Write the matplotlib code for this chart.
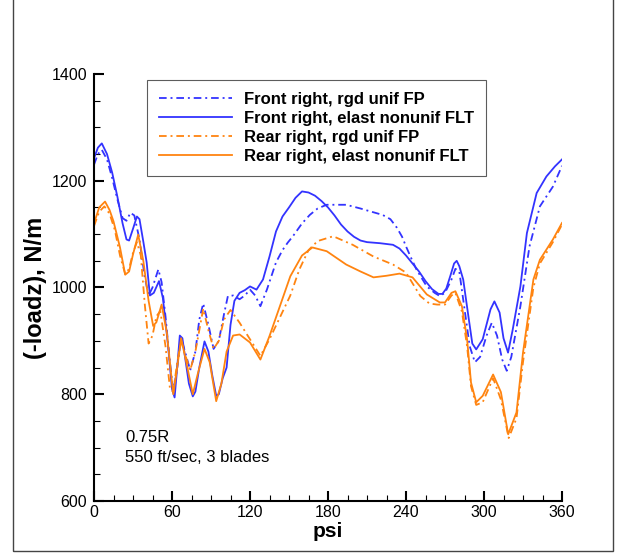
import matplotlib
matplotlib.use("Agg")
import matplotlib.pyplot as plt
from matplotlib.patches import Rectangle
from matplotlib.ticker import MultipleLocator

plt.rcParams['font.family'] = ['Liberation Sans', 'DejaVu Sans']
plt.rcParams['lines.scale_dashes'] = False

# Front right, elast nonunif FLT (blue solid)
fr_el_psi = [0, 3, 6, 10, 14, 18, 22, 25, 27, 30, 33, 35, 38, 40.5, 43, 46, 50, 53, 57, 60, 62, 64, 66, 68, 70,
             73, 76, 78, 81, 85, 88, 91, 94, 96, 99, 102, 105, 108, 112, 116, 120, 125, 130, 135, 140, 145,
             150, 155, 160, 165, 170, 175, 180, 185, 190, 195, 200, 205, 210, 220, 230, 235, 240, 245, 250,
             255, 260, 265, 268, 271, 274, 277, 279, 281, 284, 288, 291, 294, 299, 305, 308, 312, 315, 318.5,
             322, 328, 333, 340.5, 348, 354.6, 360]
fr_el_val = [1242, 1262, 1270, 1250, 1215, 1170, 1120, 1090, 1088, 1110, 1133, 1128, 1085, 1047, 985, 990, 1012,
             980, 890, 810, 794, 850, 910, 905, 870, 820, 796, 805, 850, 899, 880, 835, 797, 800, 830, 850, 930,
             975, 990, 995, 1002, 996, 1015, 1058, 1105, 1133, 1150, 1168, 1180, 1178, 1172, 1162, 1150, 1135,
             1118, 1105, 1095, 1088, 1085, 1083, 1080, 1073, 1060, 1045, 1030, 1012, 997, 988, 988, 998, 1021,
             1045, 1050, 1040, 1015, 946, 895, 884, 903, 959, 974, 953, 905, 878, 920, 1002, 1102, 1177, 1208,
             1227, 1240]

# Front right, rgd unif FP (blue dash-dot)
fr_rg_psi = [0, 3, 6, 10, 14, 18, 22, 25, 28, 31, 35, 39, 42, 45, 49.5, 52, 55, 58, 61, 64, 67, 70, 74, 78,
             81, 84, 88, 92, 96, 100, 103, 107, 112, 116, 120, 124, 128, 133, 140, 145, 149, 153, 160, 166,
             172, 179, 194, 205, 212, 222, 228, 233, 237, 240, 244, 248, 256, 262, 266, 270, 275, 278, 281,
             285, 289, 293, 297, 302, 306, 310, 314, 317.5, 321, 328, 335, 343, 353, 360]
fr_rg_val = [1230, 1250, 1258, 1240, 1205, 1165, 1130, 1125, 1140, 1135, 1090, 1020, 985, 1000, 1034, 1010,
             946, 870, 804, 850, 905, 880, 845, 880, 940, 970, 930, 885, 900, 950, 984, 985, 978, 985, 996,
             985, 965, 996, 1047, 1070, 1084, 1096, 1120, 1136, 1148, 1155, 1155, 1148, 1143, 1136, 1128,
             1112, 1095, 1077, 1055, 1034, 1002, 990, 984, 990, 1015, 1035, 1030, 960, 890, 860, 870, 910,
             934, 910, 865, 844, 870, 965, 1077, 1152, 1189, 1228]

# Rear right, elast nonunif FLT (orange solid)
rr_el_psi = [0, 4, 8.5, 12, 15, 20, 24, 27, 30, 34, 38, 42, 45.5, 48, 52, 56, 60, 61, 64, 67, 71, 76, 80,
             85, 89, 94, 98, 102, 107, 112, 120, 128, 135, 143, 151, 160, 168, 179, 194, 205, 215, 225, 235,
             245, 256, 266, 270, 275, 278, 283, 287, 290, 294, 299, 307, 313, 318.6, 325, 330, 338, 343, 353, 360]
rr_el_val = [1120, 1150, 1161, 1145, 1124, 1075, 1024, 1030, 1062, 1099, 1049, 975, 928, 935, 968, 916, 822,
             800, 850, 905, 860, 800, 840, 885, 860, 787, 820, 880, 910, 912, 897, 865, 909, 965, 1021, 1060,
             1075, 1068, 1043, 1030, 1019, 1022, 1026, 1019, 987, 972, 972, 990, 993, 965, 903, 822, 785, 797,
             837, 804, 725, 766, 878, 1015, 1052, 1090, 1121]

# Rear right, rgd unif FP (orange dash-dot)
rr_rg_psi = [0, 4, 8, 12, 16, 20, 24, 27, 30, 33, 36, 39, 42, 45, 48, 51, 55, 58.5, 61, 64, 67, 70, 74, 78,
             84, 88, 92, 96, 100, 105, 112, 120, 128, 135, 143, 151, 158, 165, 172, 184, 199, 215, 230, 240,
             251, 258, 264, 270, 275, 278, 283, 287, 290, 294, 299, 307, 313, 319, 325, 330, 338, 343, 353, 360]
rr_rg_val = [1115, 1142, 1152, 1138, 1108, 1060, 1025, 1035, 1065, 1085, 1060, 970, 895, 910, 946, 956, 890,
             809, 805, 860, 900, 875, 845, 880, 960, 920, 885, 900, 940, 958, 934, 903, 872, 903, 944, 985,
             1034, 1070, 1087, 1096, 1080, 1058, 1043, 1028, 984, 970, 968, 968, 985, 990, 955, 890, 815, 780,
             785, 830, 790, 718, 755, 860, 1000, 1045, 1085, 1118]

labels = ["Front right, rgd unif FP", "Front right, elast nonunif FLT",
          "Rear right, rgd unif FP", "Rear right, elast nonunif FLT"]
xticks = [0, 60, 120, 180, 240, 300, 360]
yticks = [600, 800, 1000, 1200, 1400]

blue = '#3333ff'
orange = '#ff8410'
dd = (0, (5.5, 2.8, 1.4, 2.8))

fig = plt.figure(figsize=(6.25, 5.59), dpi=100)
ax = fig.add_axes([94/625, 1-501/559, 468/625, 427/559])

ax.plot(fr_rg_psi, fr_rg_val, color=blue, lw=1.3, linestyle=dd, label=labels[0])
ax.plot(fr_el_psi, fr_el_val, color=blue, lw=1.3, label=labels[1])
ax.plot(rr_rg_psi, rr_rg_val, color=orange, lw=1.3, linestyle=dd, label=labels[2])
ax.plot(rr_el_psi, rr_el_val, color=orange, lw=1.3, label=labels[3])

ax.set_xlim(0, 360)
ax.set_ylim(600, 1400)
ax.set_xticks(xticks)
ax.set_yticks(yticks)
ax.xaxis.set_minor_locator(MultipleLocator(15))
ax.yaxis.set_minor_locator(MultipleLocator(50))
ax.tick_params(which='major', direction='in', length=7, width=1.5, labelsize=11.5, pad=3)
ax.tick_params(which='minor', direction='in', length=4, width=0.8)
ax.tick_params(axis='y', which='major', pad=5)
for s in ['top', 'right']:
    ax.spines[s].set_visible(False)
for s in ['left', 'bottom']:
    ax.spines[s].set_linewidth(1.5)

ax.set_xlabel('psi', fontsize=15, fontweight='bold', labelpad=1)
ax.set_ylabel('(-loadz), N/m', fontsize=17, fontweight='bold', labelpad=3)

leg = ax.legend(loc='upper left', bbox_to_anchor=((147-94)/468, (501-80)/427), borderaxespad=0,
                prop={'weight': 'bold', 'size': 12}, handlelength=4.4, handletextpad=0.75,
                labelspacing=0.25, borderpad=0.7, frameon=True, fancybox=False)
leg.get_frame().set_edgecolor('#333333')
leg.get_frame().set_linewidth(0.8)

fig.text(125/625, 1-437/559, '0.75R', fontsize=12, va='center', ha='left')
fig.text(125/625, 1-457/559, '550 ft/sec, 3 blades', fontsize=12, va='center', ha='left')

fig.patches.append(Rectangle((13/625, 1-551/559), 600/625, 551/559 + 0.01, transform=fig.transFigure,
                             fill=False, edgecolor='#444444', linewidth=1.0))

fig.savefig('out.png', dpi=100)
